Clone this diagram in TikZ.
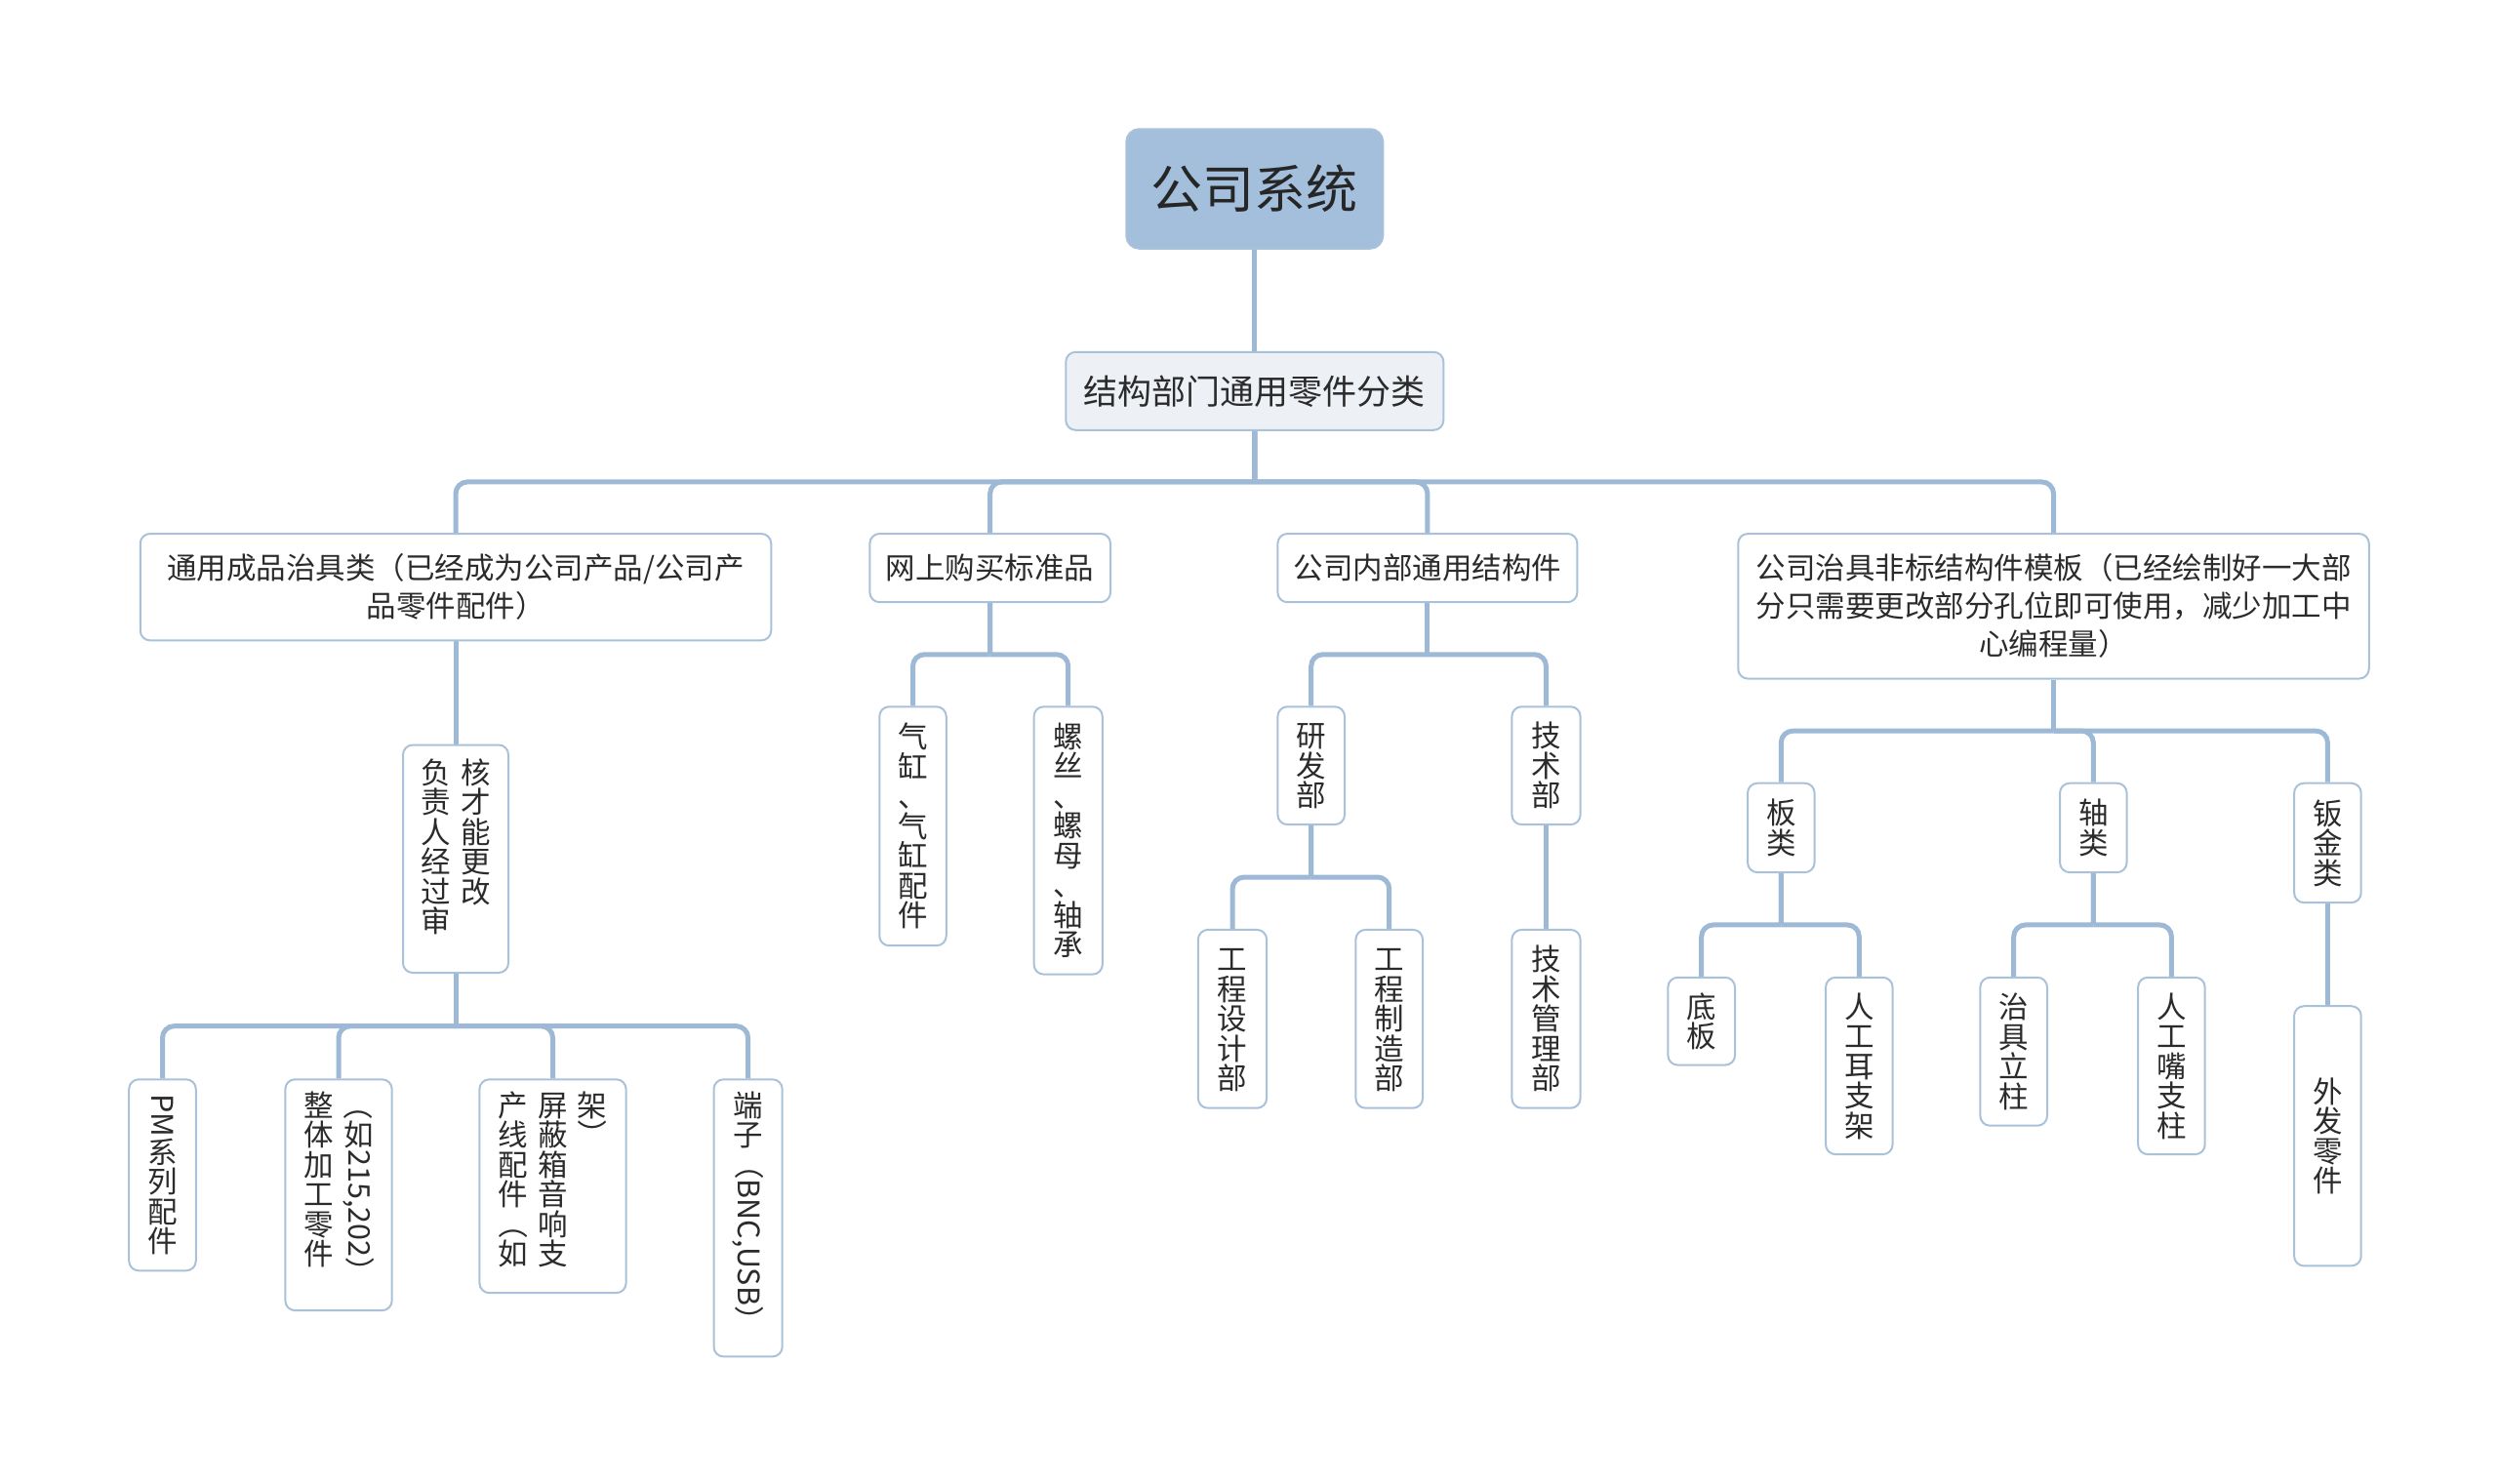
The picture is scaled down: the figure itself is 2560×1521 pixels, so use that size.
\documentclass[tikz,border=0pt]{standalone}
\usepackage{fontspec}
\setmainfont{Noto Sans CJK SC}
\usepackage{graphicx}
\usetikzlibrary{calc,backgrounds}
\definecolor{linec}{HTML}{9DB9D5}
\definecolor{bordc}{HTML}{A9C2DA}
\definecolor{rootc}{HTML}{A3BFDB}
\definecolor{lonec}{HTML}{EDF1F6}
\definecolor{txtc}{HTML}{2B2B2B}
\newcommand{\cc}[1]{\hbox to 1em{\hss\raisebox{0pt}[.88em][.12em]{#1}\hss}}
\newcommand{\rr}[1]{\hbox to 1em{\hss\raisebox{.88em}{\rotatebox{-90}{#1}}\hss}}
\newcommand{\vcol}[1]{\vtop{\offinterlineskip#1}}
\newcommand{\link}[2]{%
  \draw[conn] (#1.south) -- ($(#1.south)!0.5!(#1.south|-#2.north)$) coordinate (jn);
  \draw[conn,rounded corners=12pt] (jn) -| (#2.north);}
\newcommand{\straight}[2]{\draw[conn] (#1.south) -- (#2.north);}
\tikzset{
  conn/.style={draw=linec, line width=5pt},
  box/.style={draw=bordc, line width=2pt, fill=white, rounded corners=10pt, inner sep=0pt, text=txtc},
  vnode/.style={box, anchor=north, font=\fontsize{30.5pt}{30.5pt}\selectfont},
  hnode/.style={box, align=center, font=\fontsize{30.5pt}{39pt}\selectfont},
}
\begin{document}
\begin{tikzpicture}[x=1pt,y=-1pt]
\useasboundingbox (0,0) rectangle (2560,1521);
% root and level 1
\node[box, fill=rootc, draw=bordc, rounded corners=13pt, minimum width=263pt, minimum height=122.5pt,
      font=\fontsize{53pt}{60pt}\selectfont, text=black!85] (root) at (1285.8,193.5) {公司系统};
\node[box, fill=lonec, minimum width=387pt, minimum height=80pt,
      font=\fontsize{35pt}{40pt}\selectfont] (l1) at (1285.8,400.8) {结构部门通用零件分类};
% level 2
\node[hnode, minimum width=646.5pt, minimum height=109.3pt] (A) at (467,601.7)
  {通用成品治具类（已经成为公司产品/公司产\\品零件配件）};
\node[hnode, minimum width=246.6pt, minimum height=70.2pt] (B) at (1014.7,582.1) {网上购买标准品};
\node[hnode, minimum width=307pt, minimum height=70.2pt] (C) at (1462.9,582.1) {公司内部通用结构件};
\node[hnode, minimum width=646.5pt, minimum height=148.5pt] (D) at (2104.5,621.3)
  {公司治具非标结构件模板（已经绘制好一大部\\分只需要更改部分孔位即可使用，减少加工中\\心编程量）};
% branch A
\node[vnode, minimum width=108pt, text height=39.84pt, text depth=193.66pt] (A1) at (467,762.5)
  {\hbox{\vcol{\cc{负}\cc{责}\cc{人}\cc{经}\cc{过}\cc{审}}\kern10pt\vcol{\cc{核}\cc{才}\cc{能}\cc{更}\cc{改}}}};
\node[vnode, minimum width=68.6pt, minimum height=196pt] (A11) at (166.5,1105.3)
  {\vcol{\rr{PM}\cc{系}\cc{列}\cc{配}\cc{件}}};
\node[vnode, minimum width=109.3pt, text height=37.84pt, text depth=198.96pt] (A12) at (347,1105.3)
  {\hbox{\vcol{\cc{整}\cc{体}\cc{加}\cc{工}\cc{零}\cc{件}}\kern10pt\vcol{\rr{（}\cc{如}\rr{215,202）}}}};
\node[vnode, minimum width=150.2pt, text height=37.84pt, text depth=180.96pt] (A13) at (566.5,1105.3)
  {\hbox{\vcol{\cc{产}\cc{线}\cc{配}\cc{件}\rr{（}\cc{如}}\kern10pt\vcol{\cc{屏}\cc{蔽}\cc{箱}\cc{音}\cc{响}\cc{支}}\kern10pt\vcol{\cc{架}\rr{）}}}};
\node[vnode, minimum width=70.2pt, text height=37.84pt, text depth=246.26pt] (A14) at (766.6,1105.3)
  {\vcol{\cc{端}\cc{子}\rr{（BNC,USB）}}};
% branch B
\node[vnode, minimum width=68.5pt, minimum height=244.9pt] (B1) at (935.5,723.3)
  {\vcol{\cc{气}\cc{缸}\cc{、}\cc{气}\cc{缸}\cc{配}\cc{件}}};
\node[vnode, minimum width=70.2pt, minimum height=274.3pt] (B2) at (1094.7,723.3)
  {\vcol{\cc{螺}\cc{丝}\cc{、}\cc{螺}\cc{母}\cc{、}\cc{轴}\cc{承}}};
% branch C
\node[vnode, minimum width=68.6pt, minimum height=120.8pt] (C1) at (1343.7,723.3) {\vcol{\cc{研}\cc{发}\cc{部}}};
\node[vnode, minimum width=70.2pt, minimum height=120.8pt] (C2) at (1584.5,723.3) {\vcol{\cc{技}\cc{术}\cc{部}}};
\node[vnode, minimum width=70.2pt, minimum height=182.8pt] (C11) at (1263,951.9) {\vcol{\cc{工}\cc{程}\cc{设}\cc{计}\cc{部}}};
\node[vnode, minimum width=68.6pt, minimum height=182.8pt] (C12) at (1423.7,951.9) {\vcol{\cc{工}\cc{程}\cc{制}\cc{造}\cc{部}}};
\node[vnode, minimum width=70.2pt, minimum height=182.8pt] (C21) at (1584.5,951.9) {\vcol{\cc{技}\cc{术}\cc{管}\cc{理}\cc{部}}};
% branch D
\node[vnode, minimum width=68.5pt, minimum height=91.4pt] (D1) at (1825.3,801.7) {\vcol{\cc{板}\cc{类}}};
\node[vnode, minimum width=68.5pt, minimum height=91.4pt] (D2) at (2145.3,801.7) {\vcol{\cc{轴}\cc{类}}};
\node[vnode, minimum width=68.6pt, minimum height=122.4pt] (D3) at (2385.4,801.7) {\vcol{\cc{钣}\cc{金}\cc{类}}};
\node[vnode, minimum width=68.6pt, minimum height=89.8pt] (D11) at (1743.7,1000.8) {\vcol{\cc{底}\cc{板}}};
\node[vnode, minimum width=68.5pt, minimum height=181.3pt] (D12) at (1905.3,1000.8) {\vcol{\cc{人}\cc{工}\cc{耳}\cc{支}\cc{架}}};
\node[vnode, minimum width=68.6pt, minimum height=151.9pt] (D21) at (2063.7,1000.8) {\vcol{\cc{治}\cc{具}\cc{立}\cc{柱}}};
\node[vnode, minimum width=68.6pt, minimum height=181.3pt] (D22) at (2225.4,1000.8) {\vcol{\cc{人}\cc{工}\cc{嘴}\cc{支}\cc{柱}}};
\node[vnode, minimum width=68.6pt, minimum height=266.2pt] (D31) at (2385.4,1030.2) {\vcol{\cc{外}\cc{发}\cc{零}\cc{件}}};
% connectors
\begin{pgfonlayer}{background}
\fill[white] (0,0) rectangle (2560,1521);
\straight{root}{l1}
\link{l1}{A}\link{l1}{B}\link{l1}{C}\link{l1}{D}
\straight{A}{A1}
\link{A1}{A11}\link{A1}{A12}\link{A1}{A13}\link{A1}{A14}
\link{B}{B1}\link{B}{B2}
\link{C}{C1}\link{C}{C2}
\link{C1}{C11}\link{C1}{C12}
\straight{C2}{C21}
\link{D}{D1}\link{D}{D2}\link{D}{D3}
\link{D1}{D11}\link{D1}{D12}
\link{D2}{D21}\link{D2}{D22}
\straight{D3}{D31}
\end{pgfonlayer}
\end{tikzpicture}
\end{document}
